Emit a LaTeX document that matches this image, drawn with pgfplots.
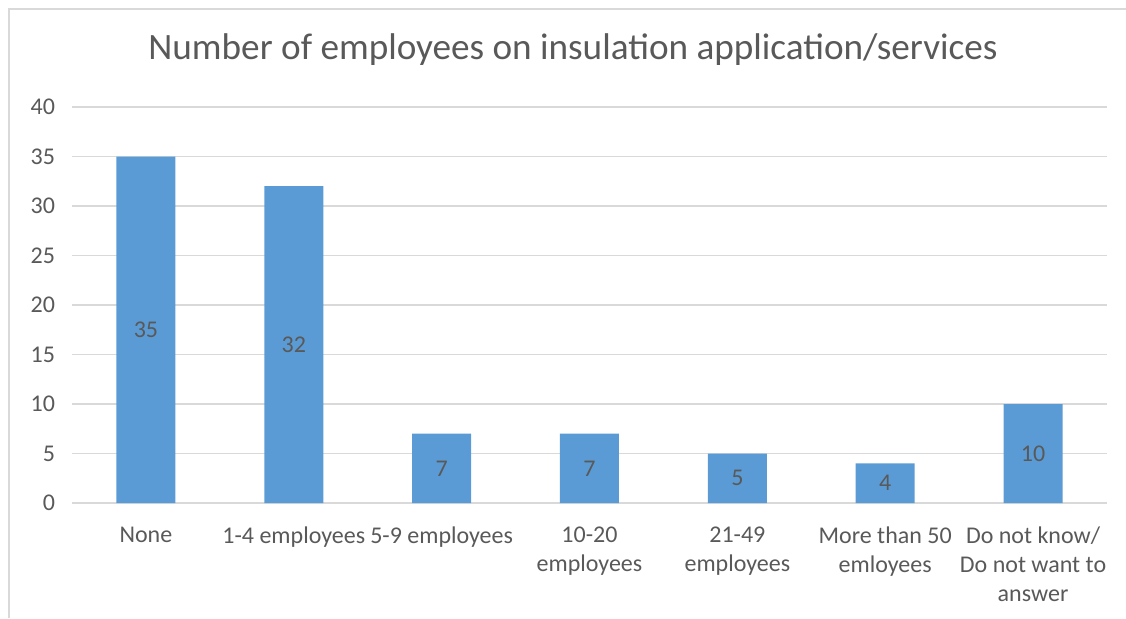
\documentclass[border=0pt]{standalone}
\usepackage{pgfplots}
\pgfplotsset{compat=1.18}
\usepackage{fontspec}
\setmainfont{Carlito}
\definecolor{bar}{HTML}{5B9BD5}
\definecolor{txt}{HTML}{595959}
\definecolor{gridc}{HTML}{D9D9D9}
\begin{document}
\begin{tikzpicture}[x=1pt,y=1pt]
\path[use as bounding box] (0,0) rectangle (563,309);
\draw[gridc, line width=1.2pt] (4.5,0) -- (4.5,304.5) -- (563,304.5);
\node[txt, font=\fontsize{18.6}{22}\selectfont] at (286.5,284) {Number of employees on insulation application/services};
\begin{axis}[
  at={(36pt,57.5pt)}, anchor=south west,
  scale only axis, width=517.5pt, height=198pt,
  xmin=-0.5, xmax=6.5, ymin=0, ymax=40,
  xtick={0,1,2,3,4,5,6},
  xticklabels={None,1-4 employees,5-9 employees,{10-20\\employees},{21-49\\employees},{More than 50\\emloyees},{Do not know/\\Do not want to\\answer}},
  xticklabel style={align=center, font=\fontsize{12}{14.5}\selectfont, text=txt, anchor=north, yshift=-8.5pt},
  ytick={0,5,...,40},
  yticklabel style={font=\fontsize{12}{14}\selectfont, text=txt, xshift=-5pt},
  /pgf/number format/assume math mode=true,
  xmajorgrids=false, ymajorgrids=true, grid style={gridc, line width=0.7pt},
  axis line style={draw=none},
  axis x line*=bottom,
  x axis line style={draw=gridc, line width=0.7pt},
  major tick length=0pt,
  tick style={draw=none},
  clip=false,
]
\addplot[ybar, bar width=29.5pt, fill=bar, draw=none] coordinates {(0,35) (1,32) (2,7) (3,7) (4,5) (5,4) (6,10)};
\addplot[draw=none, mark=none, nodes near coords, point meta=explicit,
  every node near coord/.style={anchor=center, text=txt, font=\fontsize{12}{14}\selectfont}]
  table[meta=v] {
x y v
0 17.5 35
1 16 32
2 3.5 7
3 3.5 7
4 2.5 5
5 2 4
6 5 10
};
\end{axis}
\end{tikzpicture}
\end{document}
